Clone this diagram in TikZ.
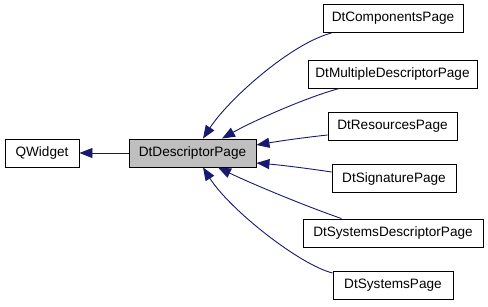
\documentclass[tikz,border=0pt]{standalone}
\usepackage{fontspec}
\setmainfont{Liberation Sans}
\usetikzlibrary{arrows.meta,calc}
\definecolor{edgeblue}{HTML}{191970}
\definecolor{boxgray}{HTML}{BFBFBF}
\begin{document}
\begin{tikzpicture}[x=1pt,y=-1pt,
  cls/.style={draw=black,line width=0.9pt,fill=white,minimum height=28pt,inner sep=0pt,
    font=\fontsize{13.6}{15}\selectfont},
  edge/.style={draw=edgeblue,line width=0.9pt,-{Triangle[length=13pt,width=10pt]}}]
\useasboundingbox (0,0) rectangle (488,307);
\node[cls,minimum width=74pt] (qw) at (42,153) {QWidget};
\node[cls,fill=boxgray,minimum width=127pt] (desc) at (192.5,153) {DtDescriptorPage};
\node[cls,minimum width=140pt] (comp) at (393,18.5) {DtComponentsPage};
\node[cls,minimum width=169pt] (mult) at (392.5,74) {DtMultipleDescriptorPage};
\node[cls,minimum width=129pt] (res) at (392.5,126) {DtResourcesPage};
\node[cls,minimum width=124pt] (sig) at (394,178.5) {DtSignaturePage};
\node[cls,minimum width=180pt] (sysd) at (393,233) {DtSystemsDescriptorPage};
\node[cls,minimum width=120pt] (sys) at (393,285) {DtSystemsPage};
\draw[edge] (desc.west) -- (qw.east);
\draw[edge] ($(comp.south west)+(9,0)$) .. controls (290,44) and (228,100) .. ($(desc.north)+(10.5,0)$);
\draw[edge] ($(mult.south west)+(32,0)$) .. controls (310,96) and (255,120) .. ($(desc.north)+(29.5,0)$);
\draw[edge] ($(res.west)+(0,9)$) .. controls (300,138) and (280,141) .. ($(desc.east)+(0,-8)$);
\draw[edge] ($(sig.west)+(0,-6.5)$) .. controls (305,168) and (280,165) .. ($(desc.east)+(0,10)$);
\draw[edge] ($(sysd.north west)+(39,0)$) .. controls (305,206) and (250,183) .. ($(desc.south)+(25.5,0)$);
\draw[edge] ($(sys.west)+(0,-12)$) .. controls (300,265) and (230,210) .. ($(desc.south)+(10.5,0)$);
\end{tikzpicture}
\end{document}
